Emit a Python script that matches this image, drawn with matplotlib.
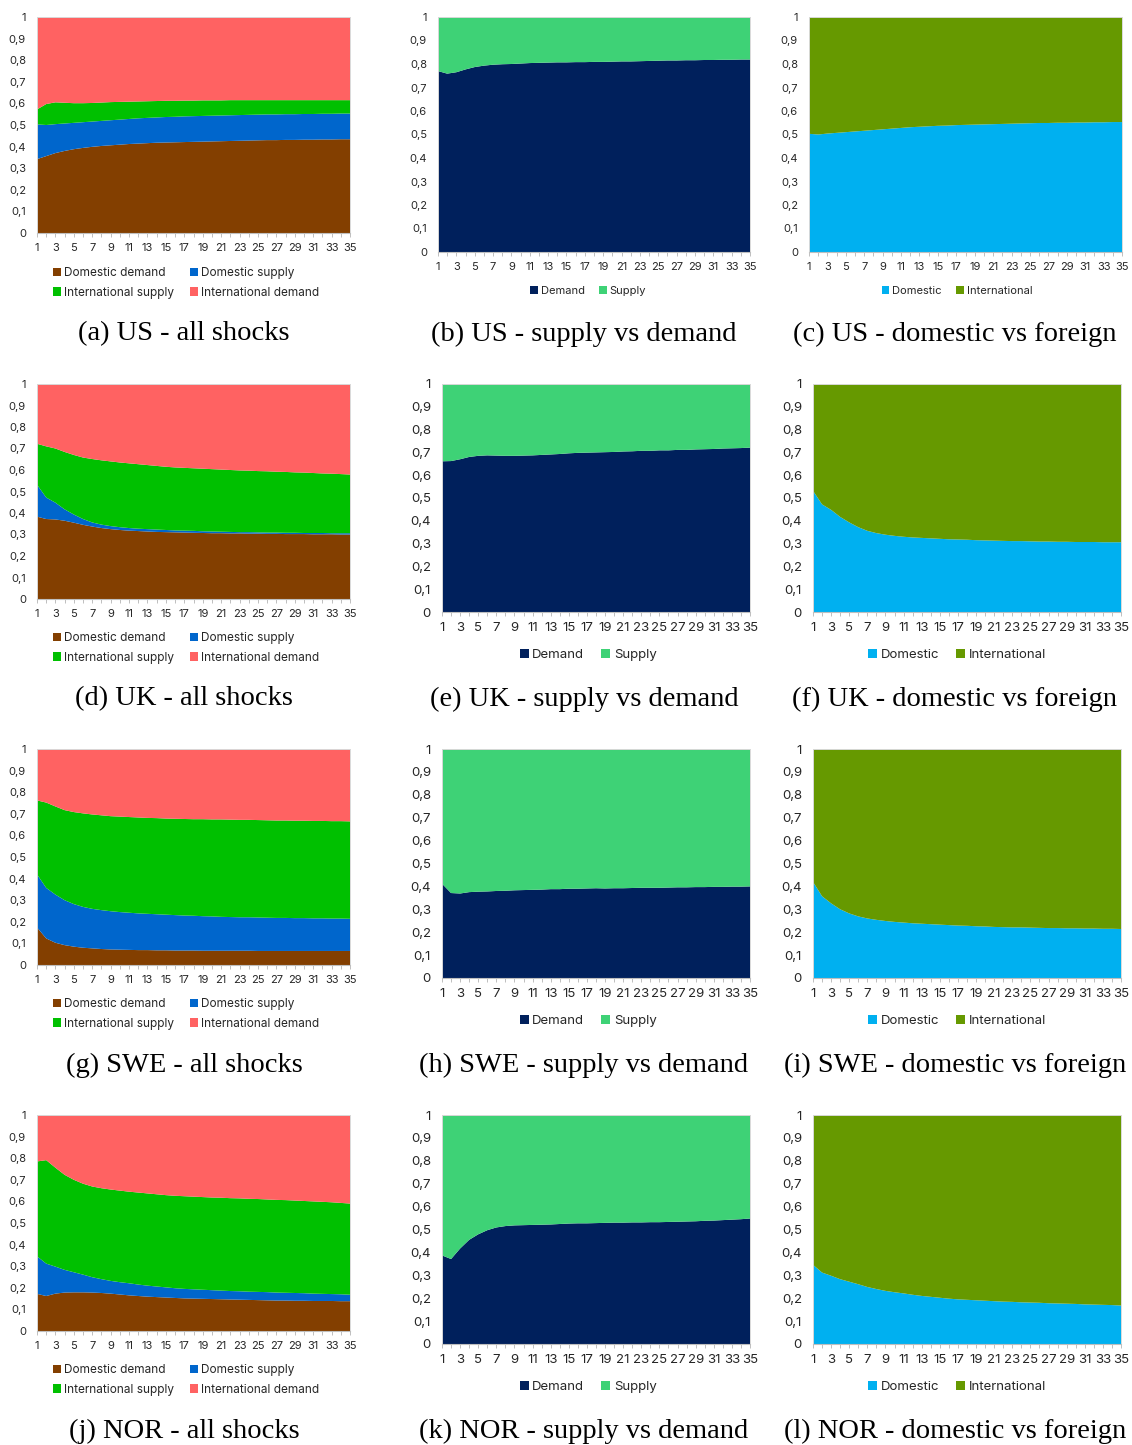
import numpy as np
import matplotlib.pyplot as plt

# horizon (trimestres)
periode = np.arange(1, 36)

# parts de la decomposition de variance, par pays
# (domestic demand, domestic supply, international supply ; international demand = reste)
us_dom_demand = [0.342, 0.356, 0.370, 0.380, 0.388, 0.394, 0.399, 0.403, 0.406, 0.409, 0.412, 0.414,
                 0.416, 0.418, 0.419, 0.420, 0.421, 0.422, 0.423, 0.424, 0.425, 0.426, 0.427, 0.428,
                 0.429, 0.430, 0.430, 0.431, 0.431, 0.432, 0.432, 0.433, 0.433, 0.434, 0.434]
us_dom_supply = [0.161, 0.144, 0.134, 0.127, 0.122, 0.119, 0.117, 0.116, 0.116, 0.116, 0.116, 0.117,
                 0.117, 0.117, 0.118, 0.118, 0.119, 0.119, 0.119, 0.119, 0.119, 0.119, 0.119, 0.119,
                 0.119, 0.119, 0.119, 0.119, 0.119, 0.119, 0.119, 0.119, 0.119, 0.119, 0.119]
us_int_supply = [0.069, 0.097, 0.101, 0.096, 0.091, 0.088, 0.086, 0.085, 0.084, 0.082, 0.080, 0.078,
                 0.077, 0.076, 0.075, 0.074, 0.073, 0.072, 0.072, 0.071, 0.070, 0.070, 0.069, 0.068,
                 0.067, 0.066, 0.066, 0.065, 0.065, 0.064, 0.064, 0.063, 0.063, 0.062, 0.062]

uk_dom_demand = [0.383, 0.372, 0.370, 0.364, 0.355, 0.345, 0.337, 0.330, 0.325, 0.321, 0.318, 0.316,
                 0.314, 0.312, 0.311, 0.310, 0.309, 0.308, 0.307, 0.306, 0.306, 0.305, 0.305, 0.304,
                 0.304, 0.303, 0.303, 0.302, 0.302, 0.302, 0.301, 0.301, 0.301, 0.300, 0.300]
uk_dom_supply = [0.149, 0.100, 0.078, 0.053, 0.038, 0.027, 0.019, 0.016, 0.014, 0.013, 0.012, 0.011,
                 0.011, 0.011, 0.010, 0.009, 0.009, 0.009, 0.008, 0.008, 0.007, 0.007, 0.006, 0.007,
                 0.006, 0.006, 0.006, 0.006, 0.006, 0.005, 0.006, 0.006, 0.005, 0.006, 0.006]
uk_int_supply = [0.190, 0.238, 0.252, 0.267, 0.277, 0.286, 0.295, 0.299, 0.301, 0.301, 0.301, 0.300,
                 0.298, 0.296, 0.294, 0.293, 0.292, 0.291, 0.291, 0.290, 0.289, 0.288, 0.287, 0.286,
                 0.285, 0.285, 0.283, 0.283, 0.281, 0.281, 0.279, 0.277, 0.277, 0.275, 0.273]

swe_dom_demand = [0.174, 0.123, 0.103, 0.092, 0.085, 0.080, 0.077, 0.074, 0.072, 0.071, 0.070, 0.069,
                  0.069, 0.068, 0.068, 0.067, 0.067, 0.067, 0.066, 0.066, 0.066, 0.066, 0.066, 0.066,
                  0.065, 0.065, 0.065, 0.065, 0.065, 0.065, 0.065, 0.065, 0.065, 0.065, 0.065]
swe_dom_supply = [0.246, 0.234, 0.223, 0.208, 0.197, 0.189, 0.183, 0.180, 0.177, 0.174, 0.172, 0.170,
                  0.168, 0.167, 0.165, 0.164, 0.162, 0.161, 0.160, 0.159, 0.157, 0.156, 0.155, 0.155,
                  0.155, 0.154, 0.153, 0.153, 0.152, 0.152, 0.151, 0.151, 0.150, 0.150, 0.149]
swe_int_supply = [0.342, 0.395, 0.408, 0.417, 0.426, 0.433, 0.437, 0.439, 0.440, 0.442, 0.443, 0.444,
                  0.444, 0.445, 0.445, 0.446, 0.447, 0.447, 0.449, 0.449, 0.451, 0.451, 0.451, 0.451,
                  0.451, 0.451, 0.451, 0.451, 0.451, 0.451, 0.451, 0.451, 0.451, 0.451, 0.451]

nor_dom_demand = [0.172, 0.162, 0.173, 0.178, 0.179, 0.179, 0.178, 0.176, 0.173, 0.169, 0.165, 0.162,
                  0.159, 0.157, 0.155, 0.153, 0.151, 0.150, 0.149, 0.148, 0.147, 0.146, 0.145, 0.144,
                  0.143, 0.142, 0.141, 0.141, 0.140, 0.140, 0.139, 0.139, 0.139, 0.138, 0.138]
nor_dom_supply = [0.174, 0.150, 0.125, 0.105, 0.093, 0.082, 0.071, 0.064, 0.059, 0.057, 0.056, 0.053,
                  0.051, 0.049, 0.047, 0.045, 0.044, 0.043, 0.042, 0.041, 0.040, 0.039, 0.039, 0.038,
                  0.038, 0.038, 0.037, 0.036, 0.036, 0.035, 0.034, 0.033, 0.032, 0.032, 0.030]
nor_int_supply = [0.439, 0.479, 0.458, 0.440, 0.428, 0.421, 0.420, 0.421, 0.423, 0.424, 0.424, 0.426,
                  0.427, 0.427, 0.427, 0.428, 0.429, 0.429, 0.429, 0.429, 0.430, 0.430, 0.430, 0.430,
                  0.430, 0.429, 0.429, 0.429, 0.428, 0.427, 0.427, 0.426, 0.425, 0.423, 0.422]

pays = ["US", "UK", "SWE", "NOR"]
donnees = {
    "US": (us_dom_demand, us_dom_supply, us_int_supply),
    "UK": (uk_dom_demand, uk_dom_supply, uk_int_supply),
    "SWE": (swe_dom_demand, swe_dom_supply, swe_int_supply),
    "NOR": (nor_dom_demand, nor_dom_supply, nor_int_supply),
}

# couleurs des series
c_dd, c_ds, c_is, c_id = "#833f00", "#0066cc", "#00c000", "#ff6262"
c_dem, c_sup = "#00205c", "#3ed276"
c_dom, c_int = "#00b0f0", "#669900"

W, H = 1132, 1445
fig = plt.figure(figsize=(W / 100, H / 100), dpi=100)
police = ["Inter", "DejaVu Sans"]
texte = "#262626"


def rect(g, h, d, b):
    # position en pixels -> coordonnees figure
    return [g / W, 1 - b / H, (d - g) / W, (b - h) / H]


def habillage(ax, fs):
    ax.set_xlim(1, 35)
    ax.set_ylim(0, 1)
    ax.set_xticks(np.arange(1, 36, 2))
    ax.set_xticks(np.arange(1, 36), minor=True)
    ax.set_xticklabels([str(v) for v in range(1, 36, 2)], fontsize=fs, family=police, color=texte)
    ax.set_yticks(np.linspace(0, 1, 11))
    ax.set_yticklabels(["0"] + ["0," + str(k) for k in range(1, 10)] + ["1"],
                       fontsize=fs, family=police, color=texte)
    ax.tick_params(axis="y", length=0, pad=8)
    ax.tick_params(axis="x", which="both", direction="out", length=3, width=0.7,
                   color="#bfbfbf", pad=4)
    for s in ["top", "right", "left"]:
        ax.spines[s].set_color("#d9d9d9")
        ax.spines[s].set_linewidth(0.7)
    ax.spines["bottom"].set_color("#bfbfbf")
    ax.spines["bottom"].set_linewidth(0.8)


def legende(ax, handles, labels, cx, cy, fs, ncol):
    ax.legend(handles, labels, loc="center", bbox_to_anchor=(cx / W, 1 - cy / H),
              bbox_transform=fig.transFigure, ncol=ncol, frameon=False,
              prop={"family": police, "size": fs}, labelcolor=texte,
              handlelength=0.7, handleheight=0.7, handletextpad=0.25,
              columnspacing=1.3, labelspacing=0.6, borderaxespad=0)


# positions des panneaux (pixels)
col_a = [(37, 17, 350, 233), (37, 384, 350, 599), (37, 749, 350, 965), (37, 1115, 350, 1331)]
col_b = [(438, 17, 750, 252), (442, 384, 750, 612), (442, 749, 750, 978), (442, 1115, 750, 1344)]
col_c = [(809, 17, 1122, 252), (813, 384, 1121, 612), (813, 749, 1121, 978), (813, 1115, 1121, 1344)]
legende_y = [(283, 291), (648, 655), (1014, 1021), (1380, 1387)]
titre_y = [334, 699, 1065, 1431]
lettres = "abcdefghijkl"

for i, p in enumerate(pays):
    dd, ds, isu = [np.array(v) for v in donnees[p]]
    idm = 1 - dd - ds - isu
    fs_b = 8 if i == 0 else 9.5

    # toutes les chocs
    ax = fig.add_axes(rect(*col_a[i]))
    sp = ax.stackplot(periode, dd, ds, isu, idm, colors=[c_dd, c_ds, c_is, c_id], linewidth=0)
    habillage(ax, 8)
    legende(ax, [sp[0], sp[2], sp[1], sp[3]],
            ["Domestic demand", "International supply", "Domestic supply", "International demand"],
            186, legende_y[i][0], 8.5, 2)

    # offre vs demande
    ax = fig.add_axes(rect(*col_b[i]))
    sp = ax.stackplot(periode, dd + idm, ds + isu, colors=[c_dem, c_sup], linewidth=0)
    habillage(ax, fs_b)
    legende(ax, sp, ["Demand", "Supply"], 588, legende_y[i][1], fs_b, 2)

    # domestique vs etranger
    ax = fig.add_axes(rect(*col_c[i]))
    sp = ax.stackplot(periode, dd + ds, isu + idm, colors=[c_dom, c_int], linewidth=0)
    habillage(ax, fs_b)
    legende(ax, sp, ["Domestic", "International"], 957, legende_y[i][1], fs_b, 2)

    # sous-titres
    titres = [f"({lettres[3 * i]}) {p} - all shocks",
              f"({lettres[3 * i + 1]}) {p} - supply vs demand",
              f"({lettres[3 * i + 2]}) {p} - domestic vs foreign"]
    for x, t in zip([184, 584, 955], titres):
        fig.text(x / W, 1 - titre_y[i] / H, t, ha="center", va="center",
                 fontsize=20.5, family="Liberation Serif", color="black")

fig.savefig("out.png", dpi=100)
